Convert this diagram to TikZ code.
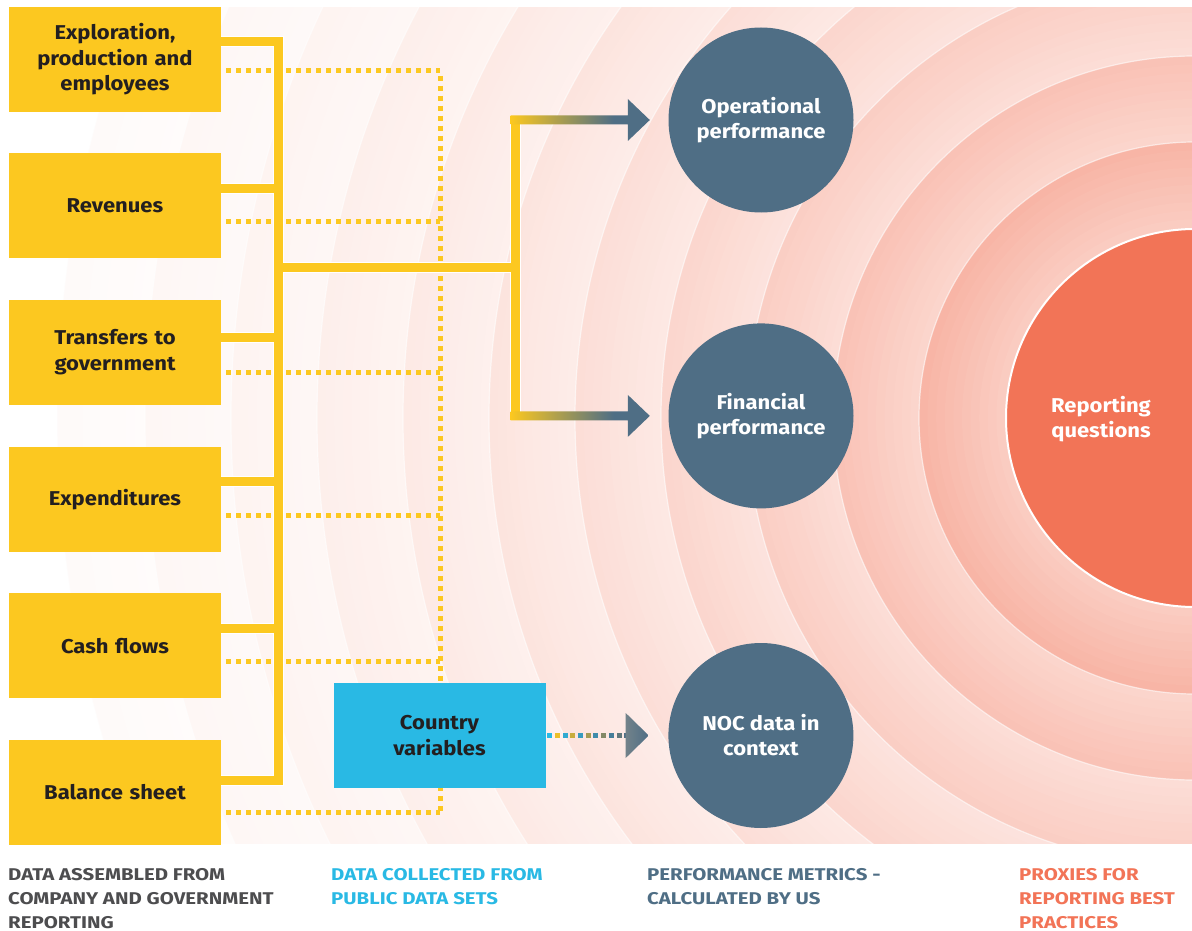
\documentclass[tikz,border=0pt]{standalone}
\usepackage{fontspec}
\setmainfont{Fira Sans}[FakeStretch=1.1]
\newfontfamily\legendfont{Fira Sans}[FakeStretch=1.2]
\usetikzlibrary{positioning,calc}

\definecolor{nocyellow}{HTML}{FCC820}
\definecolor{nocblue}{HTML}{29B9E4}
\definecolor{nocslate}{HTML}{4F6E85}
\definecolor{nocred}{HTML}{F27457}
\definecolor{nocgray}{HTML}{4D4D4F}
\definecolor{nocdark}{HTML}{231F20}
\definecolor{nochead}{HTML}{72828A}

\pgfdeclarehorizontalshading{feedshade}{100bp}{color(0bp)=(nocyellow); color(25bp)=(nocyellow); color(62bp)=(nocslate); color(100bp)=(nocslate)}

\tikzset{
  databox/.style={fill=nocyellow, text=nocdark, minimum width=212pt, minimum height=105pt, text width=206pt, align=center, inner sep=0pt, font=\bfseries\fontsize{20}{25.5}\selectfont},
  metric/.style={circle, fill=nocslate, text=white, minimum size=185pt, inner sep=0pt, align=center, font=\bfseries\fontsize{20}{25}\selectfont},
  feed/.style={draw=nocyellow, line width=9pt, preaction={draw=white, line width=11pt}},
  dots/.style={draw=nocyellow, line width=5pt, dash pattern=on 5pt off 5pt, dash phase=5pt},
  legend/.style={anchor=north west, align=left, inner sep=0pt, font=\legendfont\bfseries\fontsize{17}{24}\selectfont}
}

\begin{document}
\begin{tikzpicture}[x=1pt, y=-1pt]
\useasboundingbox (0,0) rectangle (1192,931);
\coordinate (core) at (1195,418);
\coordinate (bus) at (278,0);
\coordinate (trunk) at (440,0);
\coordinate (fork) at (515,267.5);

% rings round the reporting questions
\begin{scope}
  \clip (0,8) rectangle (1192,843);
  \foreach \rad/\pct in {1138/3, 1050/5, 964/7, 878/10, 792/13, 706/16.5, 620/20, 534/25, 448/30, 362/37, 276/45} {
    \foreach \s in {0,...,9} {
      \pgfmathsetmacro\rr{\rad-8.6*\s}
      \pgfmathsetmacro\q{\pct*(1.18-0.04*\s)}
      \fill[nocred!\q!white] (core) circle[radius=\rr pt];
    }
    \draw[white, line width=1.2pt, opacity=.6] (core) circle[radius=\rad pt];
  }
  \node[circle, fill=nocred, draw=white, line width=2pt, minimum size=378pt] (goal) at (core) {};
\end{scope}
\node[text=white, align=center, font=\bfseries\fontsize{20}{25}\selectfont] (goaltext) at ([xshift=-94pt,yshift=-1.5pt]core) {Reporting\\questions};

\node[databox] (expl) at (115,59.5) {Exploration,\\production and\\employees};
\node[databox, below=41pt of expl] (rev) {Revenues};
\node[databox, below=41pt of rev] (trans) {Transfers to\\government};
\node[databox, below=41.5pt of trans] (expend) {Expenditures};
\node[databox, below=41pt of expend] (cash) {Cash flows};
\node[databox, below=41pt of cash] (bal) {Balance sheet};

\node[metric] (op) at (761,120) {Operational\\performance};
\node[metric, below=110.5pt of op] (fin) {Financial\\performance};

\draw[dots] \foreach \nm/\dy in {expl/11.5, rev/15.5, trans/20, expend/16.5, cash/15.5, bal/20.5} {
    ($(\nm.east)+(0,\dy)$) -- ($(\nm.east -| trunk)+(0,\dy)$) };
\draw[dots] ($(expl.east -| trunk)+(0,11.5)$) -- ($(bal.east -| trunk)+(0,20.5)$);

\draw[feed] ($(expl.east)+(0,-17.5)$) -- ($(expl.east -| bus)+(0,-17.5)$) -- ($(bal.east -| bus)+(0,-11.5)$) -- ($(bal.east)+(0,-11.5)$)
  \foreach \nm/\dy in {rev/-17.5, trans/-15, expend/-17.5, cash/-17.5} {
    ($(\nm.east)+(0,\dy)$) -- ($(\nm.east -| bus)+(0,\dy)$) }
  (bus |- fork) -- (fork)
  (fork |- op) -- (fork |- fin);

\foreach \tg in {op, fin}
  \shade[shading=feedshade] ($(fork |- \tg)+(-4.5,-4.5)$) -- ($(\tg.west)+(-40.5,-4.5)$) -- ($(\tg.west)+(-40.5,-21)$)
    -- ($(\tg.west)+(-18.5,0)$) -- ($(\tg.west)+(-40.5,21)$) -- ($(\tg.west)+(-40.5,4.5)$) -- ($(fork |- \tg)+(-4.5,4.5)$) -- cycle;

\node[databox, fill=nocblue] (country) at (439.5,735.5) {Country\\variables};
\node[metric, right=122.5pt of country] (noc) {NOC data in\\context};

\foreach \i in {0,2,...,10} {
  \pgfmathsetmacro\w{10*\i}
  \fill[nocslate!\w!nocblue] ($(country.east)+(1.5+7.7*\i,-2.5)$) rectangle ++(5,5);
}
\foreach \i in {1,3,...,9} {
  \pgfmathsetmacro\w{10*\i}
  \fill[nocslate!\w!nocyellow] ($(country.east)+(1.5+7.7*\i,-2.5)$) rectangle ++(5,5);
}
\shade[left color=nochead, right color=nocslate] ($(noc.west)+(-42.5,-22.5)$) -- ($(noc.west)+(-19.5,0)$) -- ($(noc.west)+(-42.5,22.5)$) -- cycle;

\node[legend, text=nocgray] (lgdata) at (8,868) {DATA ASSEMBLED FROM\\COMPANY AND GOVERNMENT\\REPORTING};
\node[legend, text=nocblue] (lgpublic) at (331,868) {DATA COLLECTED FROM\\PUBLIC DATA SETS};
\node[legend, text=nocslate] (lgmetric) at (647,868) {PERFORMANCE METRICS -\\CALCULATED BY US};
\node[legend, text=nocred] (lgproxy) at (1019,868) {PROXIES FOR\\REPORTING BEST\\PRACTICES};
\end{tikzpicture}
\end{document}
